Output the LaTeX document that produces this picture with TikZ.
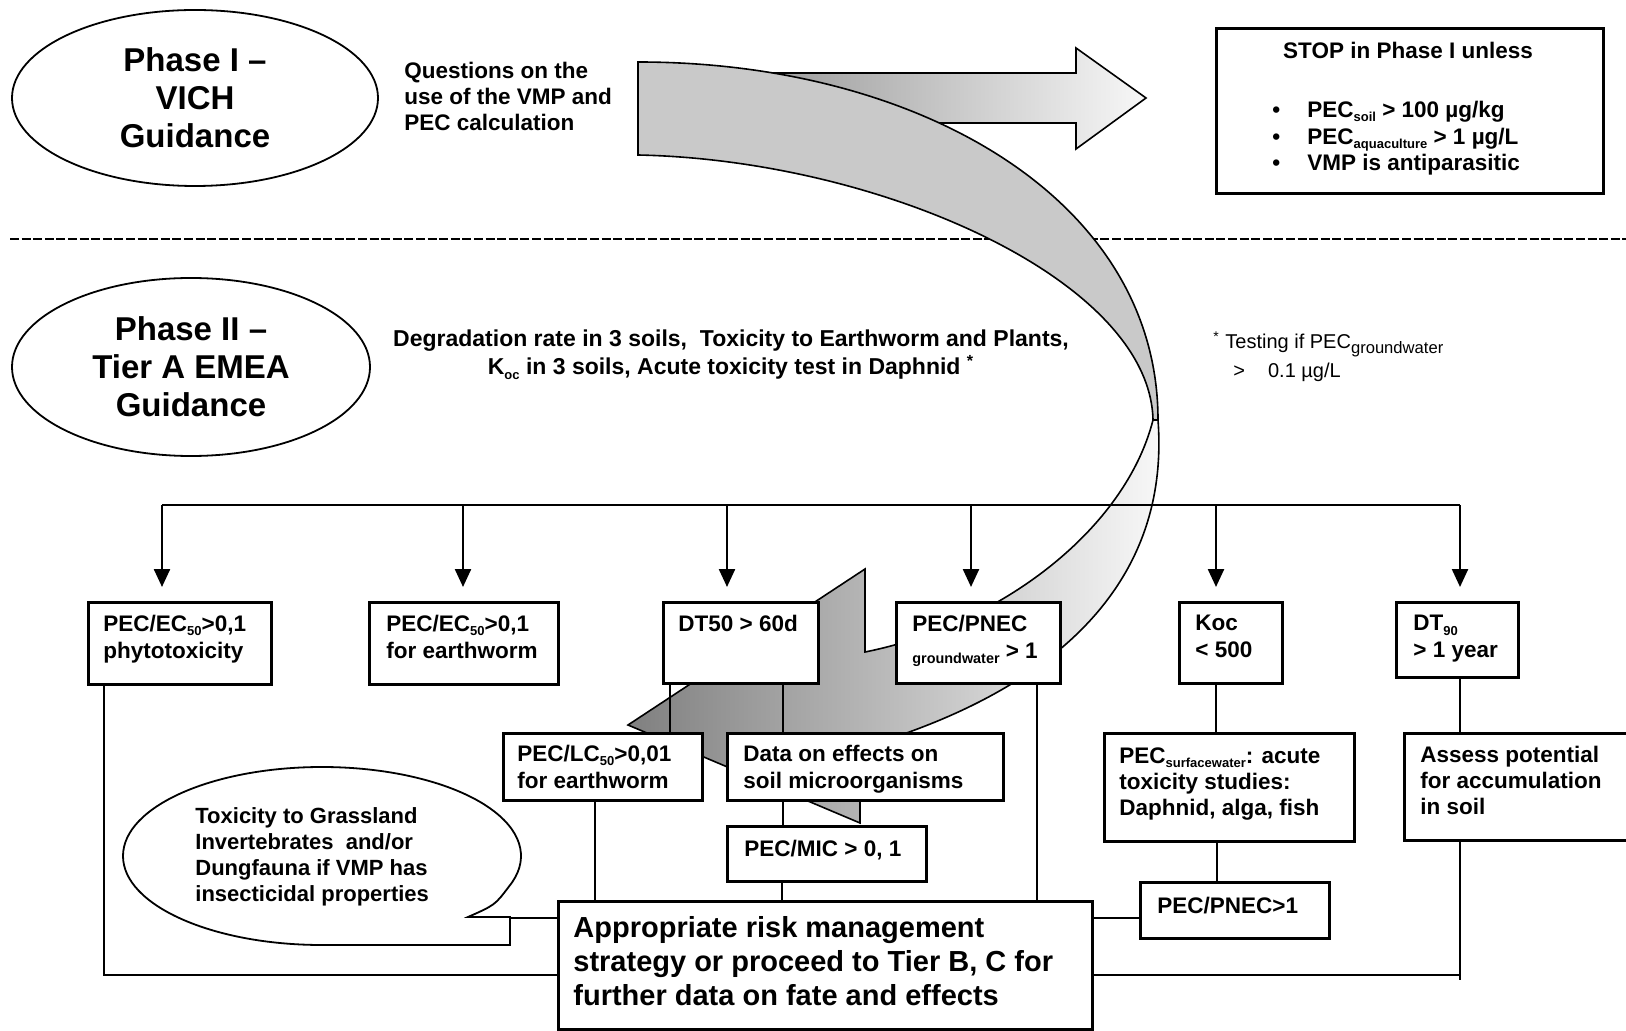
\documentclass[tikz,border=0pt]{standalone}
\usepackage{fontspec}
\setmainfont{Liberation Sans}
\usetikzlibrary{arrows.meta,shapes.geometric,calc}
\newcommand\lsub[1]{\raisebox{-0.35ex}{\fontsize{6.5}{6.5}\selectfont #1}}
\newcommand\setfs[2]{\fontsize{#1}{#2}\selectfont}
\begin{document}
\begin{tikzpicture}[x=0.5pt,y=-0.5pt,
  bx/.style 2 args={draw, fill=white, line width=1.3pt, anchor=north west, inner sep=0pt,
     minimum width={#1*0.5pt}, minimum height={#2*0.5pt}},
  tx/.style={anchor=north west, inner sep=0pt, align=left, font=\setfs{11.25}{13.5}\bfseries},
  ln/.style={line width=1.2pt},
  thinln/.style={line width=0.8pt},
  arr/.style={line width=1.2pt, -{Triangle[width=8pt,length=9pt]}, shorten >=7pt},
  ell/.style={draw, fill=white, ellipse, line width=0.9pt, inner sep=0pt, align=center,
     font=\setfs{16.5}{19}\bfseries},
]
\fill[white] (0,0) rectangle (1626,1031);
\useasboundingbox (0,0) rectangle (1626,1031);

% dashed separator
\coordinate (dl) at (10,239);
\coordinate (dr) at (1626,239);
\draw[line width=1.3pt, dash pattern=on 4.5pt off 1.3pt] (dl) -- (dr);

% straight arrow (behind the band)
\shadedraw[left color=black!45, right color=black!3, draw=black, line width=0.8pt]
  (700,73) -- (1076,73) -- (1076,48) -- (1146,98) -- (1076,149) -- (1076,123) -- (700,123) -- cycle;

% upper band
\filldraw[fill=black!21, draw=black, line width=0.8pt]
  (638,62) .. controls (920,62) and (1158,200) .. (1158,420) -- (1153,420)
  .. controls (1150,280) and (880,160) .. (638,155) -- cycle;

% lower band with head
\shadedraw[left color=black!50, right color=black!2, draw=black, line width=0.8pt]
  (1153,420) .. controls (1125,530) and (1000,625) .. (865,652) -- (865,569) -- (628,725)
  -- (860,823) -- (860,748) .. controls (1060,690) and (1170,580) .. (1158,420) -- cycle;

% ellipses
\node[ell, minimum width=183pt, minimum height=88pt] (ph1) at (195,98) {Phase I –\\VICH\\Guidance};
\node[ell, minimum width=179pt, minimum height=89pt] (ph2) at (191,367) {Phase II –\\Tier A EMEA\\Guidance};

% top texts
\node[tx, font=\setfs{11.25}{13}\bfseries] (q) at (404,62) {Questions on the\\use of the VMP and\\PEC calculation};

\node[bx={387}{165}, line width=1.4pt] (stop) at (1215,27) {};
\node[tx, anchor=center] (stopt) at (1408,50) {STOP in Phase I unless};
\node[tx, font=\setfs{11.25}{13.25}\bfseries] (stopl) at (1272,101)
  {\makebox[17.5pt][l]{•}PEC\lsub{soil} > 100 µg/kg\\
   \makebox[17.5pt][l]{•}PEC\lsub{aquaculture} > 1 µg/L\\
   \makebox[17.5pt][l]{•}VMP is antiparasitic};

% phase II texts
\node[align=center, inner sep=0pt, font=\setfs{11.5}{14}\bfseries] (deg) at (731,355)
  {Degradation rate in 3 soils,\ \ Toxicity to Earthworm and Plants,\\
   K\lsub{oc} in 3 soils, Acute toxicity test in Daphnid \textsuperscript{*}};
\node[anchor=north west, inner sep=0pt, align=left, font=\setfs{10}{14.5}] (fn) at (1213,331)
  {\textsuperscript{*} Testing if PEC\raisebox{-0.45ex}{\fontsize{8.3}{9}\selectfont groundwater}\\
   \hspace*{10pt}>\hspace{11.5pt}0.1 µg/L};

% bus and arrows
\coordinate (t1) at (162,505);
\coordinate (t2) at (463,505);
\coordinate (t3) at (727,505);
\coordinate (t4) at (971,505);
\coordinate (t5) at (1216,505);
\coordinate (t6) at (1460,505);

% boxes
\node[bx={183}{82}] (b1) at (87,601) {};
\node[bx={189}{82}] (b2) at (368,601) {};
\node[bx={155}{81}] (b3) at (662,601) {};
\node[bx={164}{81}] (b4) at (895,601) {};
\node[bx={103}{81}] (b5) at (1178,601) {};
\node[bx={122}{75}] (b6) at (1395,601) {};
\node[bx={199}{67}] (b7) at (502,732) {};
\node[bx={276}{67}] (b8) at (726,732) {};
\node[bx={199}{55}] (b9) at (726,825) {};
\node[bx={250}{108}] (b10) at (1103,732) {};
\node[bx={240}{107}] (b11) at (1403,732) {};
\node[bx={189}{56}] (b12) at (1139,881) {};
\node[bx={534}{128}] (big) at (557,900) {};

\draw[ln] (t1) -- (t6);
\foreach \t/\b in {t1/b1,t2/b2,t3/b3,t4/b4,t5/b5,t6/b6}
  \draw[arr] (\t) -- (\t |- \b.north);

% callout
\draw[line width=0.9pt, fill=white] (322,945) arc[start angle=90, end angle=380, x radius=199, y radius=89]
  .. controls (495,905) .. (468,917) -- (510,917) -- (510,945) -- cycle;
\coordinate (tail) at (510,918);

% connectors
\coordinate (c1) at (104,975);
\coordinate (c2) at (1460,975);
\coordinate (c2b) at (1460,980);
\draw[ln] (b1.south -| c1) -- (c1) -- (c1 -| big.west);
\draw[ln] (c2 -| big.east) -- (c2);
\draw[ln] (b11.south -| c2) -- (c2b);
\draw[ln] (b3.south -| 670,0) -- (b7.north -| 670,0);
\draw[ln] (b3.south -| 783,0) -- (b8.north -| 783,0);
\draw[ln] (b7.south -| 595,0) -- (big.north -| 595,0);
\draw[ln] (b8.south -| 783,0) -- (b9.north -| 783,0);
\draw[ln] (b9.south -| 782,0) -- (big.north -| 782,0);
\draw[ln] (b4.south -| 1037,0) -- (big.north -| 1037,0);
\draw[thinln] (b5.south -| 1216,0) -- (b10.north -| 1216,0);
\draw[thinln] (b10.south -| 1217,0) -- (b12.north -| 1217,0);
\draw[thinln] (b6.south -| 1460,0) -- (b11.north -| 1460,0);
\draw[ln] (b12.west |- 0,918) -- (big.east |- 0,918);
\draw[ln] (tail) -- (tail -| big.west);

% box texts
\node[tx] (b1t) at (103,615) {PEC/EC\lsub{50}>0,1\\phytotoxicity};
\node[tx] (b2t) at (386,615) {PEC/EC\lsub{50}>0,1\\for earthworm};
\node[tx] (b3t) at (678,615) {DT50 > 60d};
\node[tx] (b4t) at (912,615) {PEC/PNEC\\\raisebox{-0.4ex}{\fontsize{7.2}{8}\selectfont groundwater} > 1};
\node[tx] (b5t) at (1195,615) {Koc\\< 500};
\node[tx] (b6t) at (1413,615) {DT\lsub{90}\\> 1 year};
\node[tx] (b7t) at (517,745) {PEC/LC\lsub{50}>0,01\\for earthworm};
\node[tx] (b8t) at (743,745) {Data on effects on\\soil microorganisms};
\node[tx] (b9t) at (744,840) {PEC/MIC > 0, 1};
\node[tx, font=\setfs{11.25}{13}\bfseries] (b10t) at (1119,747) {PEC\lsub{surfacewater}: acute\\toxicity studies:\\Daphnid, alga, fish};
\node[tx, font=\setfs{11.25}{13}\bfseries] (b11t) at (1420,746) {Assess potential\\for accumulation\\in soil};
\node[tx] (b12t) at (1157,897) {PEC/PNEC>1};
\node[tx, font=\setfs{14.5}{17}\bfseries] (bigt) at (573,916) {Appropriate risk management\\strategy or proceed to Tier B, C for\\further data on fate and effects};
\node[tx, font=\setfs{11}{13}\bfseries] (cot) at (195,807) {Toxicity to Grassland\\Invertebrates\ \ and/or\\Dungfauna if VMP has\\insecticidal properties};
\end{tikzpicture}
\end{document}
